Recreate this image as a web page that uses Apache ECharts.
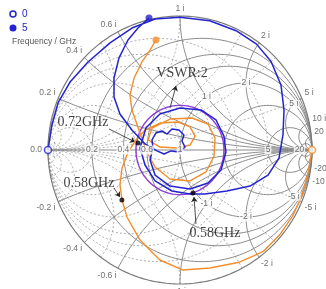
<!DOCTYPE html>
<html>
<head>
<meta charset="utf-8">
<script src="https://cdn.jsdelivr.net/npm/echarts@6/dist/echarts.min.js"></script>
<style>
html, body { margin: 0; padding: 0; background: #fff; }
#chart { width: 326px; height: 289px; }
</style>
</head>
<body>
<div id="chart"></div>
<script>
// smith chart grid values
var resistanceGrid = [0.2, 0.4, 0.6, 1, 2, 5, 20];
var reactanceGrid = [0.2, 0.4, 0.6, 1, 2, 5, 10, 20];
var axisTickValues = [0, 0.2, 0.4, 0.6, 1, 5, 20];
var axisTickLabels = ['0.0', '0.2', '0.4', '0.6', '1', '5', '20'];
var innerTickValues = [1, 2, 5];   // reactance labels on the r = 1 circle
var vswr = 2;

// reflection coefficient, [Re, Im]
var blueTrace = [
  [-1.0, 0.0], [-0.97, 0.187], [-0.924, 0.351], [-0.833, 0.507], [-0.697, 0.657],
  [-0.53, 0.799], [-0.364, 0.91], [-0.189, 0.978], [0.0, 0.99], [0.225, 0.965],
  [0.425, 0.89], [0.58, 0.79], [0.69, 0.66], [0.765, 0.485], [0.788, 0.299],
  [0.78, 0.112], [0.75, -0.06], [0.667, -0.187], [0.53, -0.269], [0.356, -0.306],
  [0.189, -0.328], [0.076, -0.328], [-0.061, -0.306], [-0.189, -0.231], [-0.265, -0.112],
  [-0.303, 0.015], [-0.258, 0.164], [-0.152, 0.269], [0.0, 0.313], [0.159, 0.299],
  [0.273, 0.224], [0.333, 0.104], [0.348, -0.015], [0.311, -0.149], [0.212, -0.246],
  [0.076, -0.291], [-0.076, -0.269], [-0.189, -0.187], [-0.227, -0.075],
  [-0.205, 0.015], [-0.212, 0.075], [-0.182, 0.127], [-0.136, 0.142], [-0.098, 0.119],
  [-0.061, 0.157], [-0.008, 0.149], [0.03, 0.112], [0.015, 0.067], [0.038, 0.022],
  [-0.008, -0.015], [-0.068, -0.007], [-0.121, -0.03], [-0.174, -0.007],
  [-0.265, 0.045], [-0.364, 0.149], [-0.455, 0.269], [-0.5, 0.396], [-0.5, 0.537],
  [-0.462, 0.687], [-0.394, 0.821], [-0.318, 0.91], [-0.235, 0.985]
];
var orangeTrace = [
  [1.0, 0.0], [0.97, -0.171], [0.926, -0.337], [0.853, -0.493], [0.755, -0.633],
  [0.633, -0.755], [0.58, -0.78], [0.44, -0.84], [0.227, -0.881], [0.023, -0.896],
  [-0.152, -0.821], [-0.303, -0.672], [-0.402, -0.5], [-0.439, -0.373], [-0.455, -0.261],
  [-0.439, -0.134], [-0.394, -0.015], [-0.333, 0.075], [-0.265, 0.149], [-0.152, 0.201],
  [-0.015, 0.209], [0.076, 0.172], [0.114, 0.104], [0.076, 0.037], [-0.023, 0.015],
  [-0.152, 0.022], [-0.242, 0.075], [-0.212, 0.164], [-0.076, 0.231], [0.091, 0.239],
  [0.212, 0.194], [0.265, 0.09], [0.258, -0.045], [0.197, -0.164], [0.076, -0.231],
  [-0.076, -0.216], [-0.189, -0.127], [-0.258, 0.0], [-0.311, 0.149], [-0.364, 0.299],
  [-0.379, 0.41], [-0.348, 0.537], [-0.288, 0.657], [-0.227, 0.746], [-0.182, 0.821]
];

// frequency markers and their notes
var markerPoints = [[-0.318, 0.052], [-0.44, -0.373], [0.098, -0.321]];
var noteTexts = ['0.72GHz', '0.58GHz', '0.58GHz', 'VSWR:2'];
var notePoints = [[-0.735, 0.209], [-0.69, -0.246], [0.265, -0.619], [0.015, 0.575]];
var arrowFrom = [[-0.538, 0.157], [-0.5, -0.284], [0.121, -0.552], [-0.076, 0.313]];
var arrowTo = [[-0.341, 0.06], [-0.455, -0.351], [0.106, -0.351], [-0.03, 0.478]];

var BLUE = '#2323d0', ORANGE = '#f28e2b', PURPLE = '#8e3bd8';
var GRID = '#8a8a8a', GRID_DASH = '#9c9c9c';
var TICK_FONT = 'Liberation Sans';

function zToGamma(r, x) {
  var d = (r + 1) * (r + 1) + x * x;
  return [(r * r + x * x - 1) / d, 2 * x / d];
}

function resistanceCircle(r) {
  var c = r / (1 + r), rad = 1 / (1 + r), pts = [];
  for (var k = 0; k <= 180; k++) {
    var a = 2 * Math.PI * k / 180;
    pts.push([c + rad * Math.cos(a), rad * Math.sin(a)]);
  }
  return pts;
}

function reactanceArc(x) {
  var pts = [];
  for (var k = 0; k < 160; k++) {
    pts.push(zToGamma(Math.tan(k / 160 * Math.PI / 2), x));
  }
  pts.push([1, 0]);
  return pts;
}

function mirror(pts) {
  return pts.map(function (p) { return [-p[0], -p[1]]; });
}

var series = [];
function addLine(pts, color, width, type, z) {
  series.push({
    type: 'line', data: pts, showSymbol: false, silent: true, clip: false,
    lineStyle: { color: color, width: width, type: type }, z: z
  });
}

// admittance grid (dashed)
resistanceGrid.forEach(function (g) { addLine(mirror(resistanceCircle(g)), GRID_DASH, 0.8, [2, 2], 1); });
reactanceGrid.forEach(function (b) {
  addLine(mirror(reactanceArc(b)), GRID_DASH, 0.8, [2, 2], 1);
  addLine(mirror(reactanceArc(-b)), GRID_DASH, 0.8, [2, 2], 1);
});
// impedance grid (solid)
resistanceGrid.forEach(function (r) { addLine(resistanceCircle(r), GRID, 1, 'solid', 2); });
reactanceGrid.forEach(function (x) {
  addLine(reactanceArc(x), GRID, 1, 'solid', 2);
  addLine(reactanceArc(-x), GRID, 1, 'solid', 2);
});
addLine(resistanceCircle(0), '#7a7a7a', 1.2, 'solid', 2);
addLine([[-1, 0], [1, 0]], GRID, 1.2, 'solid', 2);

// VSWR circle
var rho = (vswr - 1) / (vswr + 1), vswrPts = [];
for (var k = 0; k <= 120; k++) {
  var a = 2 * Math.PI * k / 120;
  vswrPts.push([rho * Math.cos(a), rho * Math.sin(a)]);
}
addLine(vswrPts, PURPLE, 1.4, 'solid', 4);

// traces
addLine(orangeTrace, ORANGE, 1.4, 'solid', 5);
addLine(blueTrace, BLUE, 1.5, 'solid', 6);

function endMarkers(trace, color) {
  return {
    type: 'scatter', silent: true, clip: false, z: 7, symbolSize: 7,
    data: [
      { value: trace[0], itemStyle: { color: '#fff', borderColor: color, borderWidth: 1.6 } },
      { value: trace[trace.length - 1], itemStyle: { color: color } }
    ]
  };
}
series.push(endMarkers(orangeTrace, ORANGE));
series.push(endMarkers(blueTrace, BLUE));

series.push({
  type: 'scatter', silent: true, clip: false, z: 8, symbolSize: 5,
  itemStyle: { color: '#000' }, data: markerPoints
});

// tick labels
var tickData = [];
function fmt(v) { return String(v); }
reactanceGrid.forEach(function (x) {
  [x, -x].forEach(function (v) {
    var g = zToGamma(0, v);
    var align = g[0] < -0.15 ? 'right' : (g[0] > 0.15 ? 'left' : 'center');
    tickData.push({
      value: g, name: (v < 0 ? '-' : '') + fmt(x) + ' i',
      label: { align: align, verticalAlign: v > 0 ? 'bottom' : 'top', offset: [g[0] * 3, -g[1] * 3] }
    });
  });
});
innerTickValues.forEach(function (x) {
  [x, -x].forEach(function (v) {
    tickData.push({
      value: zToGamma(1, v), name: (v < 0 ? '-' : '') + fmt(x) + ' i',
      label: { align: 'center', verticalAlign: 'middle', backgroundColor: '#fff', padding: [0, 1] }
    });
  });
});
axisTickValues.forEach(function (r, i) {
  var first = i === 0;
  tickData.push({
    value: [(r - 1) / (r + 1), 0], name: axisTickLabels[i],
    label: {
      align: first ? 'right' : 'center', verticalAlign: 'middle', offset: first ? [-5, 0] : [0, 0],
      backgroundColor: first ? 'transparent' : '#fff', padding: [0, 1]
    }
  });
});
series.push({
  type: 'scatter', silent: true, clip: false, z: 9, symbolSize: 0, data: tickData,
  label: {
    show: true, position: [0, 0], formatter: '{b}',
    fontFamily: TICK_FONT, fontSize: 8.5, color: '#4a4a4a'
  }
});

// notes and arrows
series.push({
  type: 'scatter', silent: true, clip: false, z: 10, symbolSize: 0,
  data: notePoints.map(function (p, i) { return { value: p, name: noteTexts[i] }; }),
  label: {
    show: true, position: [0, 0], align: 'center', verticalAlign: 'middle', formatter: '{b}',
    fontFamily: 'Liberation Serif', fontSize: 14, color: '#111'
  }
});
series.push({
  type: 'line', data: [], silent: true, z: 10,
  markLine: {
    silent: true, symbol: ['none', 'arrow'], symbolSize: 5, label: { show: false },
    lineStyle: { color: '#222', width: 0.8, type: 'solid' },
    data: arrowFrom.map(function (p, i) { return [{ coord: p }, { coord: arrowTo[i] }]; })
  }
});

var chart = echarts.init(document.getElementById('chart'));
chart.setOption({
  animation: false,
  grid: { left: 48, right: 14, top: 16, bottom: 5 },
  xAxis: { type: 'value', min: -1, max: 1, show: false },
  yAxis: { type: 'value', min: -1, max: 1, show: false },
  graphic: [
    { type: 'circle', shape: { cx: 13, cy: 14, r: 3 }, style: { fill: '#fff', stroke: BLUE, lineWidth: 1.5 } },
    { type: 'text', style: { x: 22, y: 14, text: '0', fill: BLUE, font: '10px Liberation Sans', verticalAlign: 'middle' } },
    { type: 'circle', shape: { cx: 13, cy: 28, r: 3.5 }, style: { fill: BLUE } },
    { type: 'text', style: { x: 22, y: 28, text: '5', fill: BLUE, font: '10px Liberation Sans', verticalAlign: 'middle' } },
    { type: 'text', style: { x: 12, y: 42, text: 'Frequency / GHz', fill: '#555', font: '8.5px Liberation Sans', verticalAlign: 'middle' } }
  ],
  series: series
});
</script>
</body>
</html>
